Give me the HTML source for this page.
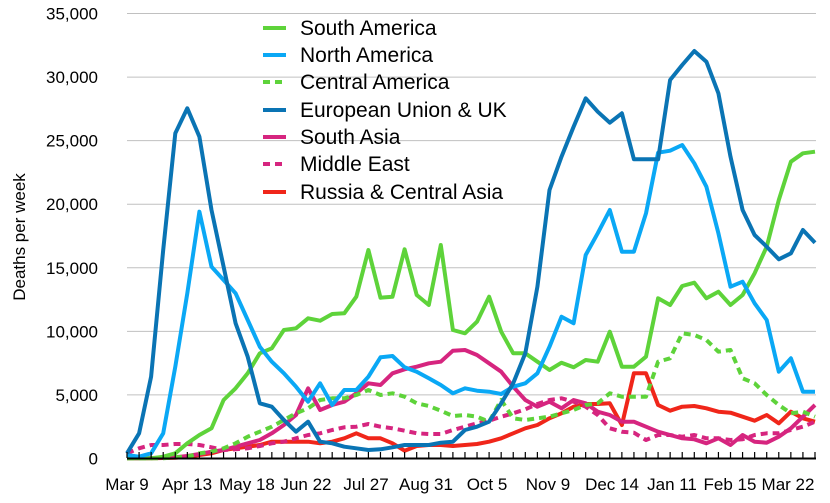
<!DOCTYPE html>
<html><head><meta charset="utf-8"><style>
body{margin:0;background:#fff;width:830px;height:503px;overflow:hidden}
svg{display:block;font-family:"Liberation Sans",Arial,sans-serif}
</style></head><body>
<svg id="s" width="830" height="503" viewBox="0 0 830 503" xmlns="http://www.w3.org/2000/svg">
<g id="grid" stroke="#c0c0c0" stroke-width="1"></g>
<g id="yl" font-size="17" text-anchor="end" fill="#000"></g>
<text transform="translate(25,237) rotate(-90)" font-size="17" text-anchor="middle">Deaths per week</text>
<g id="xl" font-size="17" text-anchor="middle"></g>
<g id="series" fill="none" stroke-width="4" stroke-linejoin="round"></g>
<line x1="127" y1="458.5" x2="816" y2="458.5" stroke="#000" stroke-width="2"/>
<g id="ticks" stroke="#000" stroke-width="1.2"></g>
<g font-size="21">
<line x1="263" y1="28" x2="286" y2="28" stroke="#5ed33a" stroke-width="4"/><text x="300" y="35">South America</text>
<line x1="263" y1="55" x2="286" y2="55" stroke="#0aa8f5" stroke-width="4"/><text x="300" y="62">North America</text>
<line x1="263" y1="82" x2="286" y2="82" stroke="#5ed33a" stroke-width="4" stroke-dasharray="7,5"/><text x="300" y="89">Central America</text>
<line x1="263" y1="110" x2="286" y2="110" stroke="#0a74b4" stroke-width="4"/><text x="300" y="117">European Union &amp; UK</text>
<line x1="263" y1="137" x2="286" y2="137" stroke="#d6257f" stroke-width="4"/><text x="300" y="144">South Asia</text>
<line x1="263" y1="164" x2="286" y2="164" stroke="#d6257f" stroke-width="4" stroke-dasharray="7,5"/><text x="300" y="171">Middle East</text>
<line x1="263" y1="192" x2="286" y2="192" stroke="#f0261a" stroke-width="4"/><text x="300" y="199">Russia &amp; Central Asia</text>
</g>
</svg>
<script>
(function(){
var NS="http://www.w3.org/2000/svg";
function el(p,t,a,txt){var e=document.createElementNS(NS,t);for(var k in a)e.setAttribute(k,a[k]);if(txt)e.textContent=txt;document.getElementById(p).appendChild(e);}
var y0=458.5,yt=13.5;
for(var i=1;i<=7;i++){var y=y0-(y0-yt)*i/7;el("grid","line",{x1:127,x2:816,y1:y,y2:y});}
var yls=["0","5,000","10,000","15,000","20,000","25,000","30,000","35,000"];
for(var i=0;i<=7;i++){el("yl","text",{x:98,y:y0-(y0-yt)*i/7+6},yls[i]);}
var xls=[["Mar 9",127],["Apr 13",187],["May 18",247],["Jun 22",306],["Jul 27",366],["Aug 31",426],["Oct 5",487],["Nov 9",548],["Dec 14",612],["Jan 11",672],["Feb 15",730],["Mar 22",788]];
xls.forEach(function(l){el("xl","text",{x:l[1],y:490},l[0]);});
var dx=12.07;
for(var i=0;i<58;i++){var x=127+i*dx;el("ticks","line",{x1:x,x2:x,y1:452,y2:458});}
function ser(c,dash,arr){var pts=arr.map(function(v,i){return (127+i*dx).toFixed(1)+","+(v/3).toFixed(1);}).join(" ");var a={points:pts,stroke:c};if(dash)a["stroke-dasharray"]="7,5";el("series","polyline",a);}
ser("#f0261a",0,[1375,1375,1375,1374,1373,1370,1365,1360,1350,1345,1340,1335,1325,1325,1325,1325,1330,1325,1315,1300,1315,1315,1330,1352,1338,1335,1335,1338,1335,1332,1325,1315,1300,1285,1275,1255,1240,1220,1212,1212,1210,1275,1120,1120,1215,1232,1220,1218,1225,1235,1238,1250,1262,1245,1270,1235,1255,1265]);
ser("#d6257f",1,[1360,1345,1335,1335,1332,1332,1335,1342,1350,1348,1345,1338,1330,1325,1315,1305,1300,1290,1282,1280,1272,1280,1285,1292,1300,1302,1302,1290,1280,1270,1262,1250,1240,1228,1212,1200,1195,1205,1220,1245,1285,1295,1298,1320,1305,1305,1310,1305,1315,1315,1320,1318,1305,1300,1300,1290,1280,1265]);
ser("#d6257f",0,[1375,1375,1374,1373,1372,1368,1362,1355,1350,1340,1330,1320,1300,1275,1245,1165,1230,1215,1205,1180,1150,1155,1120,1108,1100,1090,1085,1052,1050,1065,1090,1115,1160,1200,1220,1205,1225,1200,1210,1235,1245,1265,1265,1280,1295,1305,1315,1318,1330,1315,1335,1305,1325,1328,1310,1285,1250,1215]);
ser("#5ed33a",1,[1375,1375,1375,1375,1372,1370,1360,1355,1345,1330,1310,1295,1280,1260,1240,1225,1200,1195,1195,1185,1170,1185,1180,1190,1210,1218,1232,1248,1245,1250,1265,1200,1255,1260,1255,1250,1240,1230,1215,1210,1180,1190,1190,1190,1085,1075,1000,1005,1020,1055,1050,1135,1150,1185,1215,1240,1235,1250]);
ser("#5ed33a",0,[1375,1375,1375,1370,1360,1330,1305,1285,1200,1165,1120,1060,1045,990,985,955,962,942,940,890,750,893,890,748,885,915,735,990,1000,965,890,995,1060,1060,1085,1110,1088,1102,1080,1085,995,1100,1100,1070,895,915,858,848,895,875,915,885,820,740,600,485,460,455]);
ser("#0aa8f5",0,[1365,1370,1360,1300,1100,880,635,800,840,880,960,1040,1085,1120,1160,1205,1150,1215,1170,1170,1130,1072,1068,1102,1115,1135,1155,1180,1165,1172,1175,1182,1160,1150,1120,1040,950,970,765,700,630,755,755,640,458,452,435,490,560,700,860,845,910,960,1115,1075,1175,1175]);
ser("#0a74b4",0,[1360,1300,1130,750,400,325,410,630,800,970,1070,1210,1220,1260,1295,1265,1325,1330,1340,1345,1350,1348,1342,1335,1335,1335,1328,1325,1290,1280,1265,1210,1150,1060,860,570,470,380,295,335,368,340,478,478,478,240,195,153,185,280,470,630,705,740,778,760,690,728]);
})();
</script>
</body></html>
